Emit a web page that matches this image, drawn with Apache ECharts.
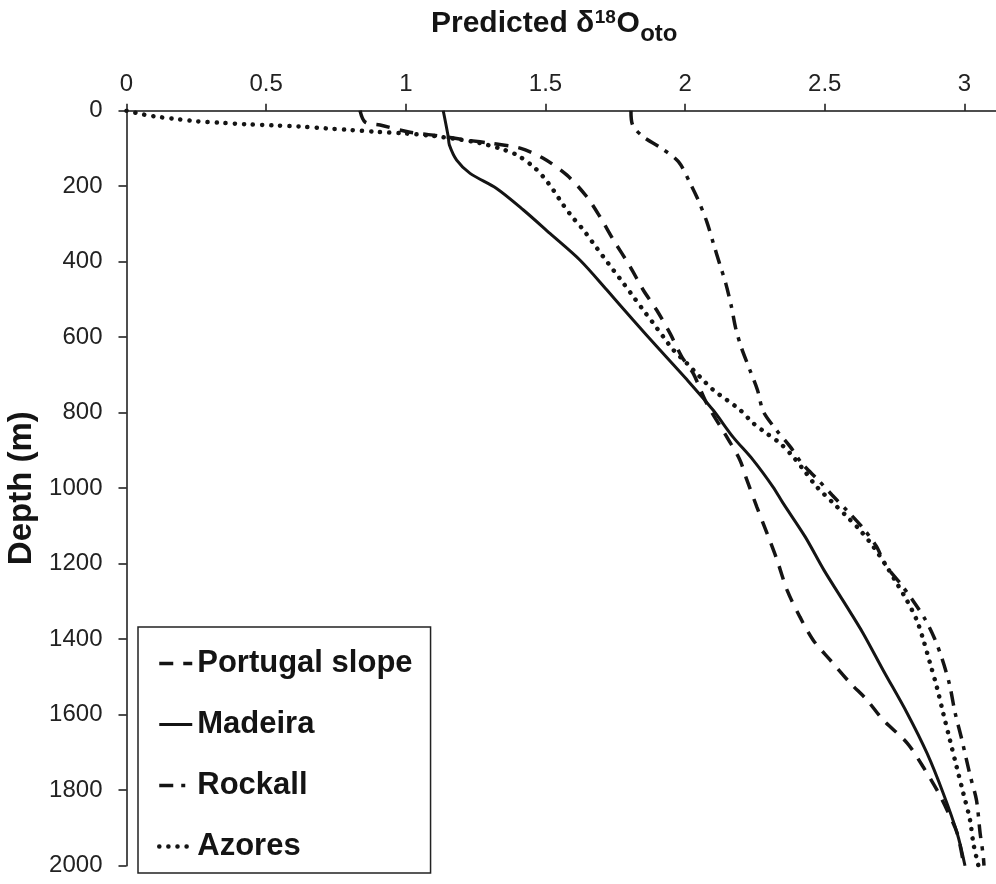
<!DOCTYPE html>
<html>
<head>
<meta charset="utf-8">
<script src="https://cdn.jsdelivr.net/npm/echarts@6/dist/echarts.min.js"></script>
<style>
  html, body { margin: 0; padding: 0; background: #fff; }
  #chart { width: 996px; height: 884px; }
</style>
</head>
<body>
<div id="chart"></div>
<script>
// Predicted otolith δ18O against depth for four sites
const seriesNames = ['Portugal slope', 'Madeira', 'Rockall', 'Azores'];

const portugalDepth = [0, 30, 38, 57, 67, 78, 87, 99, 126, 170, 228, 281, 342, 413, 475, 528, 590, 652, 696, 775, 864, 925, 978, 1050, 1119, 1190, 1270, 1341, 1402, 1455, 1516, 1561, 1614, 1675, 1738, 1800, 1853, 1914, 2000];
const portugalD18O  = [0.836, 0.854, 0.908, 1.015, 1.122, 1.219, 1.312, 1.409, 1.492, 1.576, 1.648, 1.695, 1.743, 1.803, 1.850, 1.898, 1.946, 1.988, 2.029, 2.077, 2.149, 2.196, 2.221, 2.257, 2.293, 2.329, 2.365, 2.411, 2.458, 2.519, 2.591, 2.651, 2.709, 2.795, 2.852, 2.902, 2.938, 2.974, 2.998];

const madeiraDepth = [0, 69, 91, 131, 166, 206, 263, 325, 396, 475, 554, 634, 713, 793, 864, 925, 997, 1039, 1129, 1217, 1315, 1384, 1482, 1596, 1702, 1808, 1914, 2000];
const madeiraD18O  = [1.134, 1.152, 1.156, 1.182, 1.230, 1.325, 1.421, 1.516, 1.624, 1.720, 1.813, 1.910, 2.007, 2.100, 2.171, 2.243, 2.315, 2.350, 2.430, 2.497, 2.580, 2.637, 2.709, 2.795, 2.866, 2.924, 2.974, 3.002];

const rockallDepth = [0, 38, 69, 99, 135, 192, 237, 295, 351, 409, 456, 520, 576, 629, 687, 740, 797, 846, 890, 935, 978, 1018, 1062, 1104, 1153, 1203, 1251, 1296, 1347, 1398, 1452, 1521, 1593, 1667, 1760, 1826, 1913, 1972, 2000];
const rockallD18O  = [1.806, 1.812, 1.850, 1.914, 1.976, 2.018, 2.047, 2.078, 2.101, 2.125, 2.145, 2.166, 2.181, 2.202, 2.232, 2.259, 2.280, 2.327, 2.376, 2.419, 2.476, 2.526, 2.583, 2.635, 2.684, 2.717, 2.769, 2.814, 2.859, 2.893, 2.920, 2.947, 2.966, 2.991, 3.020, 3.043, 3.056, 3.067, 3.070];

const azoresDepth = [0, 10, 17, 22, 28, 32, 36, 39, 42, 47, 51, 56, 60, 66, 75, 86, 100, 117, 148, 175, 210, 250, 285, 316, 351, 387, 422, 457, 493, 528, 563, 599, 634, 669, 705, 740, 766, 793, 828, 855, 881, 917, 952, 996, 1040, 1075, 1111, 1155, 1208, 1252, 1296, 1349, 1402, 1464, 1526, 1596, 1667, 1738, 1808, 1879, 1941, 2000];
const azoresD18O  = [0, 0.06, 0.12, 0.18, 0.25, 0.335, 0.43, 0.526, 0.621, 0.717, 0.80, 0.896, 0.991, 1.087, 1.182, 1.266, 1.337, 1.397, 1.456, 1.492, 1.528, 1.564, 1.600, 1.636, 1.671, 1.707, 1.743, 1.779, 1.815, 1.850, 1.886, 1.922, 1.958, 2.006, 2.053, 2.101, 2.149, 2.197, 2.244, 2.292, 2.340, 2.387, 2.425, 2.471, 2.531, 2.579, 2.626, 2.674, 2.722, 2.758, 2.793, 2.829, 2.853, 2.877, 2.901, 2.924, 2.948, 2.972, 2.996, 3.020, 3.032, 3.050];

// Axis ticks
const xTickStep = 0.5;
const depthTickStep = 200;

// Title pieces: main text, superscript, main text, subscript (shift = baseline offset)
const titleParts = [
  { text: 'Predicted δ', size: 30, shift: 0 },
  { text: '18', size: 19, shift: -9.5 },
  { text: 'O', size: 30, shift: 0 },
  { text: 'oto', size: 24, shift: 8 }
];

const FONT = '"Liberation Sans", Arial, sans-serif';
const INK = '#141414';

function pairs(values, depths) {
  return values.map((v, i) => [v, depths[i]]);
}

const lineDefs = [
  { name: seriesNames[0], data: pairs(portugalD18O, portugalDepth), style: { width: 3.5, type: [14, 10] } },
  { name: seriesNames[1], data: pairs(madeiraD18O, madeiraDepth), style: { width: 3, type: 'solid' } },
  { name: seriesNames[2], data: pairs(rockallD18O, rockallDepth), style: { width: 3.5, type: [14, 8, 4, 8] } },
  { name: seriesNames[3], data: pairs(azoresD18O, azoresDepth), style: { width: 4.5, type: [0.1, 9], cap: 'round' } }
];

// Lay the title pieces side by side using measured text widths
const measureCtx = document.createElement('canvas').getContext('2d');
function widthOf(str, size) {
  measureCtx.font = 'bold ' + size + 'px ' + FONT;
  return measureCtx.measureText(str).width;
}
const titleBaseline = 34.3;
let titleX = 431;
const titleGraphics = titleParts.map(p => {
  const el = {
    type: 'text',
    x: titleX,
    y: titleBaseline + p.shift - 0.3465 * p.size,
    style: {
      text: p.text,
      font: 'bold ' + p.size + 'px ' + FONT,
      fill: INK,
      align: 'left',
      verticalAlign: 'middle'
    }
  };
  titleX += widthOf(p.text, p.size) + 0.5;
  return el;
});

const chart = echarts.init(document.getElementById('chart'), null, { renderer: 'canvas' });

chart.setOption({
  animation: false,
  backgroundColor: '#ffffff',
  graphic: titleGraphics,
  grid: {
    left: 126.5,
    top: 110.7,
    width: 977.6,
    height: 755,
    outerBoundsMode: 'none',
    containLabel: false
  },
  legend: {
    orient: 'vertical',
    left: 138,
    top: 627,
    padding: [21, 18, 11, 19],
    itemGap: 30,
    itemWidth: 33,
    itemHeight: 30,
    borderColor: '#222',
    borderWidth: 1.5,
    backgroundColor: '#fff',
    itemStyle: { opacity: 0 },
    data: lineDefs.map(d => ({
      name: d.name,
      itemStyle: { opacity: 0 },
      lineStyle: Object.assign({ color: INK }, d.style)
    })),
    textStyle: { fontFamily: FONT, fontSize: 31, fontWeight: 'bold', color: INK, lineHeight: 30 }
  },
  xAxis: {
    type: 'value',
    position: 'top',
    min: 0,
    max: 3.5,
    interval: xTickStep,
    axisLine: { show: true, onZero: false, lineStyle: { color: INK, width: 1.5 } },
    axisTick: { show: true, inside: false, length: 7, lineStyle: { color: INK, width: 1.5 } },
    axisLabel: { fontFamily: FONT, fontSize: 24, color: '#222', margin: 14 },
    splitLine: { show: false }
  },
  yAxis: {
    type: 'value',
    inverse: true,
    min: 0,
    max: 2000,
    interval: depthTickStep,
    name: 'Depth (m)',
    nameLocation: 'middle',
    nameRotate: 90,
    nameGap: 88,
    nameTextStyle: { fontFamily: FONT, fontSize: 33, fontWeight: 'bold', color: INK },
    axisLine: { show: true, onZero: false, lineStyle: { color: INK, width: 1.5 } },
    axisTick: { show: true, inside: false, length: 8, lineStyle: { color: INK, width: 1.5 } },
    axisLabel: { fontFamily: FONT, fontSize: 24, color: '#222', margin: 24, formatter: v => String(v) },
    splitLine: { show: false }
  },
  series: lineDefs.map(d => ({
    name: d.name,
    type: 'line',
    data: d.data,
    showSymbol: false,
    symbol: 'none',
    smooth: 0.3,
    color: INK,
    lineStyle: Object.assign({ color: INK }, d.style),
    z: 2
  }))
});
</script>
</body>
</html>
